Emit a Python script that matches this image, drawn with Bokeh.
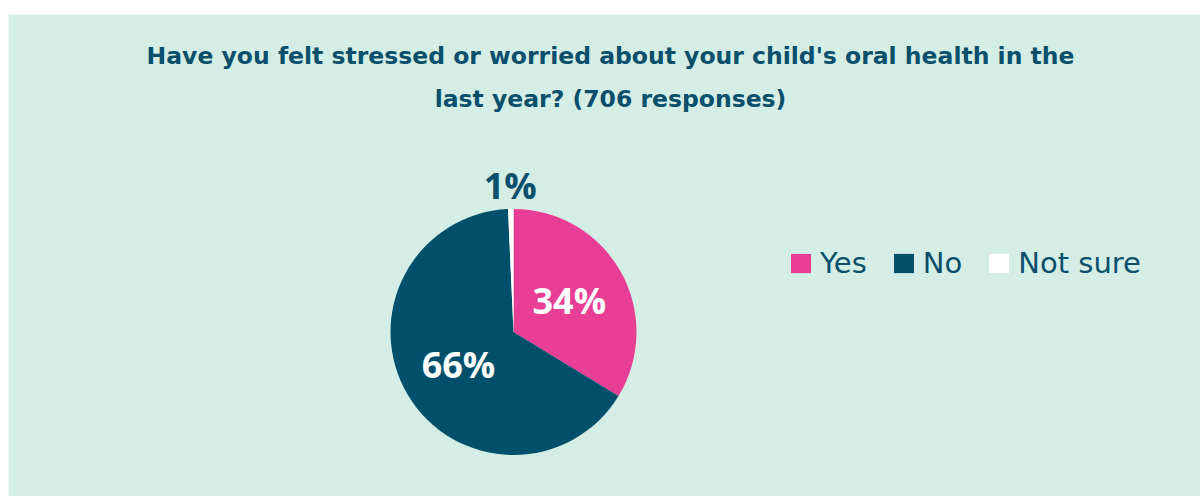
import math
from bokeh.plotting import figure
from bokeh.models import Range1d, ColumnDataSource, Legend, LegendItem
from bokeh.core.properties import value
from bokeh.embed import file_html
from bokeh.resources import INLINE

# ---- data ----
categories = ["Yes", "No", "Not sure"]
counts = [238, 463, 5]
colors = ["#e83e96", "#004f6b", "#ffffff"]
title_lines = ["Have you felt stressed or worried about your child's oral health in the",
               "last year? (706 responses)"]

TEXT = "#0a4f6b"
BG = "#d4eee6"
FONT = "Open Sans"
WIDE = "DejaVu Sans"

W, H = 1200, 496
ML, MT = 8, 14
FW, FH = W - ML, H - MT

p = figure(width=W, height=H, output_backend="svg", toolbar_location=None,
           x_range=Range1d(0, FW), y_range=Range1d(0, FH),
           min_border_left=ML, min_border_top=MT, min_border_right=0, min_border_bottom=0)
p.axis.visible = False
p.grid.visible = False
p.outline_line_color = None
p.background_fill_color = BG
p.border_fill_color = "white"

# pie geometry
cx, cy, R = 505, 164.5, 123
total = sum(counts)
fracs = [c / total for c in counts]
starts, ends, mids = [], [], []
a = math.pi / 2
for f in fracs:
    starts.append(a)
    a2 = a - 2 * math.pi * f
    ends.append(a2)
    mids.append((a + a2) / 2)
    a = a2

src = ColumnDataSource(dict(cat=categories, start=starts, end=ends, color=colors,
                            x=[cx] * 3, y=[cy] * 3))
r = p.wedge(x="x", y="y", radius=R, start_angle="end", end_angle="start",
            fill_color="color", line_color="white", line_width=0, source=src)

# labels
lx, ly, lt, lc = [], [], [], []
for f, m in zip(fracs, mids):
    rf = 1.19 if f < 0.05 else 0.52
    lx.append(cx + rf * R * math.cos(m))
    ly.append(cy + rf * R * math.sin(m))
    lt.append(f"{round(f * 100)}%")
    lc.append(TEXT if f < 0.05 else "white")
p.text(x=lx, y=ly, text=lt, text_color=lc, text_font=value(FONT),
       text_font_style="bold", text_font_size="36px", text_align="center", text_baseline="middle")

# title
ty = [FH - 41, FH - 84]
p.text(x=[602, 602], y=ty, text=title_lines, text_color=TEXT, text_font=value(WIDE),
       text_font_style="bold", text_font_size="23.5px", text_align="center", text_baseline="middle")

# legend
items = [LegendItem(label=c, renderers=[r], index=i) for i, c in enumerate(categories)]
leg = Legend(items=items, orientation="horizontal", location=(780, 216),
             label_text_font=WIDE, label_text_font_size="29px", label_text_color=TEXT,
             glyph_width=25, glyph_height=24, label_standoff=7, spacing=24,
             padding=0, margin=0, background_fill_alpha=0, border_line_color=None)
p.add_layout(leg)

open("out.html", "w").write(file_html(p, INLINE))
